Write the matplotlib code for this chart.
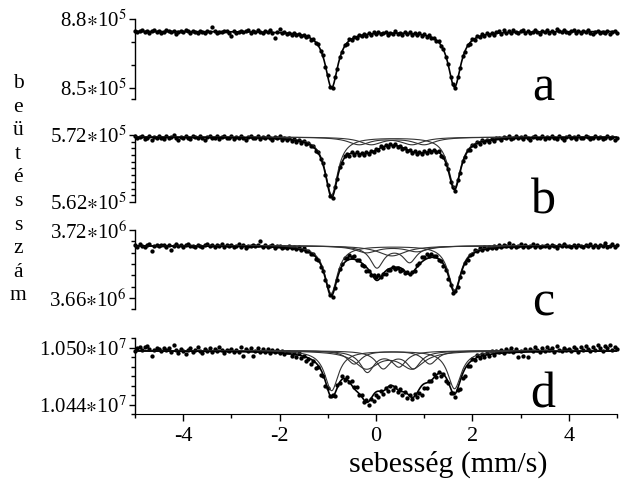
import matplotlib
matplotlib.use('Agg')
import matplotlib.pyplot as plt
import numpy as np

plt.rcParams['font.family'] = ['Liberation Serif', 'DejaVu Serif']
plt.rcParams['mathtext.fontset'] = 'stix'

velocity = np.linspace(-5, 5, 201)   # mm/s, one value per channel

# measured counts, in units of 1000 counts
counts_a = [
    874.9, 874.2, 874.6, 875.1, 874.3, 874.7, 874.0, 874.8, 875.2, 874.4,
    874.6, 873.9, 874.5, 875.0, 874.7, 874.2, 874.9, 873.6, 874.4, 874.8,
    874.3, 875.1, 874.6, 874.0, 874.7, 874.5, 873.8, 874.9, 874.4, 874.1,
    874.8, 874.3, 876.4, 874.6, 873.9, 874.5, 874.2, 874.9, 874.6, 874.0,
    872.6, 874.7, 874.0, 874.5, 874.9, 874.2, 874.6, 875.3, 874.1, 874.7,
    874.3, 875.0, 874.4, 873.8, 874.6, 874.2, 875.4, 873.9, 871.8, 874.5,
    875.6, 873.7, 874.2, 873.6, 874.1, 873.2, 873.9, 873.0, 873.5, 872.6,
    873.1, 872.0, 872.4, 871.0, 871.2, 869.3, 868.9, 866.0, 864.2, 859.0,
    855.4, 850.2, 849.6, 854.5, 858.2, 863.5, 865.4, 868.6, 869.0, 871.1,
    870.8, 872.3, 871.8, 873.1, 872.4, 873.6, 872.7, 873.9, 873.0, 874.2,
    873.3, 874.4, 873.5, 873.9, 874.5, 873.2, 874.1, 873.6, 874.6, 873.4,
    874.0, 873.1, 874.3, 873.5, 874.2, 873.0, 873.9, 872.8, 873.7, 872.6,
    873.4, 872.2, 872.9, 871.5, 871.9, 870.3, 870.2, 868.0, 866.9, 863.2,
    860.4, 854.6, 851.5, 850.0, 854.6, 858.4, 863.6, 865.6, 868.7, 869.2,
    871.2, 871.0, 872.5, 872.0, 873.3, 872.6, 873.7, 872.9, 874.1, 873.2,
    874.3, 874.8, 873.6, 875.3, 874.1, 874.9, 873.9, 875.1, 874.4, 873.7,
    874.6, 875.2, 874.0, 874.8, 873.8, 874.5, 875.4, 874.2, 873.6, 874.7,
    874.3, 875.0, 874.1, 874.9, 873.9, 875.5, 874.6, 874.2, 875.1, 874.4,
    873.8, 874.7, 875.2, 874.0, 874.6, 873.7, 874.9, 874.3, 875.0, 874.1,
    873.6, 874.5, 874.9, 873.9, 874.4, 874.0, 874.7, 873.5, 874.2, 874.6,
    874.1]

counts_b = [
    571.8, 571.5, 571.7, 571.9, 571.4, 571.6, 571.8, 571.3, 571.7, 571.5,
    571.9, 571.6, 571.4, 571.8, 571.5, 571.7, 572.0, 571.6, 571.3, 571.7,
    571.5, 571.8, 571.6, 571.4, 571.9, 571.7, 571.5, 571.8, 571.6, 571.3,
    571.7, 571.9, 571.5, 571.6, 571.8, 571.4, 571.7, 571.9, 571.5, 571.6,
    571.8, 571.4, 571.7, 571.5, 571.9, 571.6, 571.3, 571.7, 571.8, 571.5,
    571.6, 571.8, 571.4, 571.7, 571.5, 571.9, 571.6, 571.3, 571.7, 571.5,
    571.8, 571.2, 571.5, 571.3, 571.5, 571.1, 571.4, 571.0, 571.3, 570.8,
    571.1, 570.6, 570.8, 570.3, 570.3, 569.6, 569.5, 568.4, 567.8, 566.0,
    564.6, 562.9, 562.6, 564.2, 565.4, 567.2, 567.8, 568.8, 569.2, 568.9,
    569.4, 569.0, 569.4, 569.0, 569.3, 569.0, 569.5, 569.2, 569.6, 569.4,
    569.9, 569.8, 570.3, 570.0, 570.5, 570.2, 570.6, 570.3, 570.6, 570.2,
    570.4, 569.9, 570.1, 569.6, 569.8, 569.3, 569.6, 569.2, 569.5, 569.1,
    569.6, 569.3, 569.7, 569.4, 569.8, 569.4, 569.6, 568.9, 568.7, 567.6,
    566.9, 565.0, 564.2, 563.7, 565.3, 566.4, 568.1, 568.7, 569.7, 569.8,
    570.5, 570.4, 570.9, 570.7, 571.2, 570.9, 571.3, 571.0, 571.4, 571.1,
    571.5, 571.6, 571.3, 571.7, 571.5, 571.8, 571.4, 571.6, 571.9, 571.5,
    571.7, 571.4, 571.8, 571.6, 571.3, 571.7, 571.9, 571.5, 571.6, 571.8,
    571.4, 571.7, 571.5, 571.9, 571.6, 571.4, 571.8, 571.6, 571.3, 571.7,
    571.9, 571.5, 571.7, 571.4, 571.8, 571.6, 571.5, 571.9, 571.7, 571.4,
    571.6, 571.8, 571.5, 571.7, 571.4, 571.6, 571.9, 571.5, 571.7, 571.3,
    571.6]

counts_c = [
    3706.8, 3705.4, 3707.2, 3706.0, 3704.9, 3706.6, 3707.5, 3701.2, 3705.8, 3706.9,
    3705.5, 3706.3, 3707.0, 3705.2, 3706.7, 3702.6, 3706.1, 3707.4, 3705.7, 3706.4,
    3705.0, 3706.8, 3707.6, 3705.9, 3706.2, 3704.8, 3707.1, 3706.0, 3705.3, 3706.9,
    3707.8, 3705.6, 3706.3, 3704.6, 3706.8, 3705.9, 3707.2, 3705.1, 3706.4, 3705.7,
    3706.9, 3704.9, 3706.2, 3707.5, 3705.4, 3706.6, 3704.3, 3706.0, 3705.5, 3707.0,
    3705.8, 3706.4, 3710.5, 3705.1, 3706.5, 3704.7, 3705.9, 3706.8, 3704.4, 3705.6,
    3706.2, 3704.5, 3705.3, 3703.8, 3705.6, 3703.9, 3705.0, 3703.4, 3704.6, 3702.5,
    3703.8, 3701.2, 3701.6, 3698.7, 3698.4, 3694.6, 3693.3, 3687.6, 3684.0, 3676.1,
    3670.8, 3662.9, 3661.0, 3669.1, 3676.2, 3685.8, 3690.2, 3695.5, 3695.6, 3697.7,
    3696.0, 3696.9, 3693.8, 3693.3, 3689.3, 3688.5, 3684.0, 3683.6, 3680.1, 3680.5,
    3678.3, 3680.2, 3678.9, 3681.4, 3681.5, 3684.9, 3684.5, 3687.1, 3685.4, 3686.7,
    3684.0, 3684.5, 3681.8, 3682.7, 3680.9, 3683.2, 3683.6, 3688.9, 3691.1, 3696.0,
    3696.0, 3698.6, 3697.3, 3699.0, 3696.9, 3697.3, 3693.8, 3692.9, 3688.0, 3684.9,
    3677.0, 3671.7, 3664.6, 3666.3, 3669.9, 3678.8, 3683.1, 3691.1, 3693.7, 3698.2,
    3698.6, 3702.1, 3701.2, 3703.9, 3702.5, 3704.8, 3703.4, 3705.2, 3703.9, 3705.7,
    3704.3, 3706.3, 3704.9, 3707.0, 3705.6, 3708.4, 3705.2, 3706.5, 3704.7, 3706.1,
    3707.2, 3705.4, 3706.8, 3704.9, 3706.0, 3707.5, 3705.3, 3706.6, 3704.6, 3706.2,
    3705.8, 3707.1, 3705.0, 3706.4, 3705.7, 3704.5, 3706.9, 3705.5, 3707.3, 3705.9,
    3706.2, 3704.8, 3706.6, 3705.3, 3707.0, 3706.1, 3704.9, 3706.7, 3705.6, 3707.4,
    3705.2, 3706.3, 3704.8, 3706.9, 3705.7, 3708.6, 3705.4, 3706.2, 3707.8, 3705.1,
    3706.5]

counts_d = [
    10496.5, 10499.8, 10501.2, 10498.0, 10500.6, 10502.3, 10499.1, 10491.0, 10497.5, 10500.2,
    10498.4, 10496.1, 10499.3, 10497.2, 10500.0, 10495.6, 10503.2, 10497.8, 10495.0, 10498.9,
    10496.3, 10493.8, 10497.6, 10499.5, 10495.4, 10498.1, 10500.4, 10496.7, 10494.9, 10498.6,
    10497.0, 10499.9, 10495.8, 10498.3, 10496.2, 10501.0, 10497.4, 10494.6, 10498.0, 10496.5,
    10499.2, 10495.3, 10497.9, 10496.0, 10500.8, 10491.2, 10498.2, 10496.8, 10499.6, 10490.9,
    10497.1, 10499.4, 10495.2, 10498.5, 10496.0, 10499.0, 10494.7, 10497.3, 10495.9, 10498.1,
    10494.2, 10496.9, 10493.5, 10495.6, 10495.3, 10491.1, 10494.8, 10490.7, 10494.1, 10488.8,
    10491.3, 10486.1, 10488.4, 10483.4, 10485.6, 10478.9, 10480.2, 10471.4, 10470.5, 10460.1,
    10457.9, 10449.2, 10449.8, 10449.4, 10460.3, 10462.6, 10470.0, 10466.0, 10469.3, 10463.5,
    10465.3, 10458.5, 10458.8, 10450.8, 10450.2, 10443.0, 10444.7, 10440.1, 10445.9, 10444.1,
    10450.5, 10448.2, 10454.0, 10451.5, 10457.4, 10454.6, 10459.5, 10455.3, 10458.8, 10453.5,
    10456.5, 10450.6, 10453.0, 10447.6, 10450.7, 10446.6, 10451.3, 10447.7, 10452.7, 10450.6,
    10457.7, 10457.2, 10465.4, 10465.2, 10472.0, 10469.7, 10474.5, 10470.5, 10472.9, 10464.6,
    10463.2, 10452.7, 10452.5, 10448.3, 10455.9, 10456.3, 10467.8, 10470.8, 10480.3, 10480.5,
    10488.1, 10486.7, 10492.2, 10489.0, 10493.5, 10489.9, 10494.9, 10491.5, 10496.2, 10492.1,
    10496.1, 10495.3, 10497.9, 10494.6, 10498.8, 10496.1, 10499.4, 10495.7, 10498.2, 10490.6,
    10497.0, 10491.5, 10498.6, 10490.2, 10499.1, 10496.4, 10500.3, 10497.5, 10495.2, 10499.8,
    10496.8, 10500.6, 10497.2, 10499.5, 10495.9, 10501.4, 10498.0, 10496.3, 10500.2, 10497.7,
    10499.0, 10496.5, 10501.1, 10498.4, 10495.8, 10500.7, 10497.3, 10502.0, 10498.8, 10496.2,
    10500.5, 10498.1, 10502.6, 10499.3, 10496.9, 10501.5, 10499.8, 10503.4, 10497.6, 10500.9,
    10498.4]

# fitted subspectra: lines as (position mm/s, depth in 1000 counts, half width mm/s)
base_a = 874.6
subs_a = [[(-0.92, 24.6, 0.16), (1.63, 24.3, 0.16)]]
base_b = 571.7
subs_b = [[(-0.92, 8.6, 0.16), (1.63, 7.5, 0.16)],
          [(-0.35, 1.1, 0.28), (0.75, 1.1, 0.28)],
          [(-0.10, 1.1, 0.28), (1.00, 1.1, 0.28)]]
base_c = 3706.1
subs_c = [[(-0.93, 42, 0.16), (1.63, 39, 0.16)],
          [(0.02, 19, 0.17), (0.70, 14, 0.17)],
          [(-0.20, 6, 0.28), (0.85, 5, 0.28)],
          [(0.33, 9, 0.35)]]
base_d = 10497.0
subs_d = [[(-0.92, 42, 0.17), (1.63, 40, 0.17)],
          [(-0.18, 22, 0.18), (0.48, 16, 0.18)],
          [(0.15, 18, 0.18), (0.78, 18, 0.18)],
          [(-0.45, 14, 0.18), (1.12, 14, 0.18)],
          [(-0.20, 18, 0.30), (0.75, 18, 0.30)]]

ylims = [(8.45e5, 8.80e5), (5.62e5, 5.72e5), (3.65e6, 3.72e6), (1.043e7, 1.051e7)]
major_ticks = [[8.5e5, 8.8e5], [5.62e5, 5.72e5], [3.66e6, 3.72e6], [1.044e7, 1.050e7]]
major_labels = [[r'8.5$\ast$10$^{5}$', r'8.8$\ast$10$^{5}$'],
                [r'5.62$\ast$10$^{5}$', r'5.72$\ast$10$^{5}$'],
                [r'3.66$\ast$10$^{6}$', r'3.72$\ast$10$^{6}$'],
                [r'1.044$\ast$10$^{7}$', r'1.050$\ast$10$^{7}$']]
minor_ticks = [[8.45e5, 8.6e5, 8.7e5],
               list(np.arange(5.63e5, 5.715e5, 1e3)),
               [3.65e6, 3.67e6, 3.68e6, 3.69e6, 3.70e6, 3.71e6],
               [1.043e7, 1.045e7, 1.046e7, 1.047e7, 1.048e7, 1.049e7, 1.051e7]]
letters = ['a', 'b', 'c', 'd']


def lorentz(v, lines):
    out = np.zeros_like(v)
    for pos, depth, hw in lines:
        out += depth / (1 + ((v - pos) / hw) ** 2)
    return out


fig = plt.figure(figsize=(6.2, 4.79), dpi=100)
rects = [[0.2177, 0.7933, 0.7774, 0.1670],
         [0.2177, 0.5783, 0.7774, 0.1399],
         [0.2177, 0.3543, 0.7774, 0.1656],
         [0.2177, 0.1351, 0.7774, 0.1587]]
letter_y = [0.791, 0.555, 0.342, 0.150]

panels = [(counts_a, base_a, subs_a), (counts_b, base_b, subs_b),
          (counts_c, base_c, subs_c), (counts_d, base_d, subs_d)]

vfine = np.linspace(-5, 5, 1001)
for k, (counts, base, subs) in enumerate(panels):
    ax = fig.add_axes(rects[k])
    ax.plot(velocity, np.array(counts) * 1e3, 'o', ms=3.1, mew=0, color='black',
            zorder=2, clip_on=False)
    total = np.zeros_like(vfine)
    for lines in subs:
        comp = lorentz(vfine, lines)
        total += comp
        if len(subs) > 1:
            ax.plot(vfine, (base - comp) * 1e3, color='#333333', lw=0.8, zorder=3)
    ax.plot(vfine, (base - total) * 1e3, color='black', lw=1.2, zorder=4)

    ax.set_xlim(-5, 5)
    ax.set_ylim(*ylims[k])
    for s in ['top', 'right']:
        ax.spines[s].set_visible(False)
    ax.spines['left'].set_linewidth(1.0)
    ax.set_yticks(major_ticks[k])
    ax.set_yticklabels(major_labels[k])
    ax.set_yticks(minor_ticks[k], minor=True)
    ax.tick_params(axis='y', which='major', direction='out', length=4.5, width=1.0,
                   labelsize=15, pad=1.5)
    ax.tick_params(axis='y', which='minor', direction='out', length=3, width=1.0)
    if k < 3:
        ax.spines['bottom'].set_visible(False)
        ax.set_xticks([])
    else:
        ax.set_xticks([-4, -2, 0, 2, 4])
        ax.set_xticklabels(['-4', '-2', '0', '2', '4'])
        ax.set_xticks([-5, -3, -1, 1, 3, 5], minor=True)
        ax.tick_params(axis='x', which='major', direction='out', length=5, width=1.0,
                       labelsize=16, pad=4)
        ax.tick_params(axis='x', which='minor', direction='out', length=3, width=1.0)
    ax.patch.set_alpha(0)
    fig.text(0.876, letter_y[k], letters[k], fontsize=36, ha='center', va='baseline')

fig.text(0.723, 0.003, 'sebesség (mm/s)', fontsize=21.5, ha='center', va='bottom')
fig.text(0.029, 0.604, '\n'.join('beütésszám'), fontsize=15.5, ha='center',
         va='center', linespacing=1.33)

fig.savefig('out.png', dpi=100)
